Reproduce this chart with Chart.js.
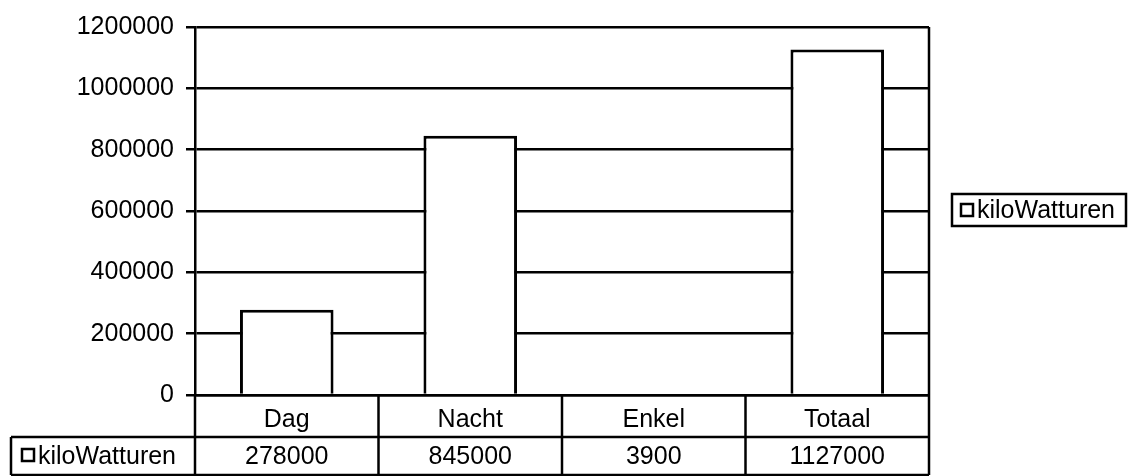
<!DOCTYPE html>
<html>
<head>
<meta charset="utf-8">
<script src="https://cdn.jsdelivr.net/npm/chart.js@4/dist/chart.umd.min.js"></script>
<style>
  html, body { margin: 0; padding: 0; background: #fff; }
  #wrap { width: 1130px; height: 476px; }
</style>
</head>
<body>
<div id="wrap"><canvas id="myChart" width="1130" height="476"></canvas></div>
<script>
let categories = ['Dag', 'Nacht', 'Enkel', 'Totaal']
let kiloWatturen = [278000, 845000, 3900, 1127000]
let seriesName = 'kiloWatturen'

const fontFam = '"Liberation Sans", Arial, sans-serif'
const fontSize = 25

// data table under the axis + legend box on the right
const tablePlugin = {
  id: 'tablePlugin',
  afterDraw(chart) {
    const ctx = chart.ctx
    const x = chart.scales.x
    const area = chart.chartArea
    const rowTop = area.bottom
    const rowMid = rowTop + 42
    const rowBot = 475
    const step = (x.right - x.left) / categories.length
    ctx.save()
    ctx.strokeStyle = '#000'
    ctx.lineWidth = 2.5
    // right border of plot
    ctx.beginPath()
    ctx.moveTo(area.right, area.top)
    ctx.lineTo(area.right, area.bottom)
    ctx.stroke()
    // vertical table lines
    for (let i = 0; i <= categories.length; i++) {
      const px = x.left + i * step
      ctx.beginPath()
      ctx.moveTo(px, rowTop)
      ctx.lineTo(px, rowBot)
      ctx.stroke()
    }
    // horizontal lines
    ctx.beginPath()
    ctx.moveTo(11, rowMid)
    ctx.lineTo(area.right, rowMid)
    ctx.moveTo(11, rowBot)
    ctx.lineTo(area.right, rowBot)
    ctx.moveTo(11, rowMid)
    ctx.lineTo(11, rowBot)
    ctx.stroke()

    ctx.fillStyle = '#000'
    ctx.font = fontSize + 'px ' + fontFam
    ctx.textBaseline = 'middle'
    ctx.textAlign = 'center'
    kiloWatturen.forEach((v, i) => {
      ctx.fillText(String(v), x.left + (i + 0.5) * step, (rowMid + rowBot) / 2 + 1)
    })
    // row header
    ctx.lineWidth = 2.5
    ctx.strokeRect(22, 449, 12, 12)
    ctx.textAlign = 'left'
    ctx.fillText(seriesName, 38, (rowMid + rowBot) / 2 + 1)

    // legend
    ctx.strokeRect(952, 194, 174, 32)
    ctx.strokeRect(961, 204, 12, 12)
    ctx.fillText(seriesName, 977, 211)
    ctx.restore()
  }
}

const data = {
  labels: categories,
  datasets: [{
    label: seriesName,
    data: kiloWatturen,
    backgroundColor: '#fff',
    borderColor: '#000',
    borderWidth: 3,
    barPercentage: 0.51,
    categoryPercentage: 1
  }]
}

const config = {
  type: 'bar',
  data: data,
  options: {
    responsive: false,
    animation: false,
    layout: { padding: { top: 24, right: 201, left: 0, bottom: 0 } },
    plugins: {
      legend: { display: false },
      tooltip: { enabled: false }
    },
    scales: {
      y: {
        min: 0,
        max: 1200000,
        ticks: {
          stepSize: 200000,
          color: '#000',
          padding: 12,
          font: { family: fontFam, size: fontSize },
          callback: v => String(v)
        },
        grid: { color: '#000', lineWidth: 2.5, tickLength: 9 },
        border: { display: true, color: '#000', width: 2.5 },
        afterFit(scale) { scale.width = 195 }
      },
      x: {
        ticks: {
          color: '#000',
          padding: 2,
          font: { family: fontFam, size: fontSize }
        },
        grid: { display: false },
        border: { display: true, color: '#000', width: 2.5 },
        afterFit(scale) { scale.height = 81 }
      }
    }
  },
  plugins: [tablePlugin]
}

const myChart = new Chart(document.getElementById('myChart'), config)
</script>
</body>
</html>
